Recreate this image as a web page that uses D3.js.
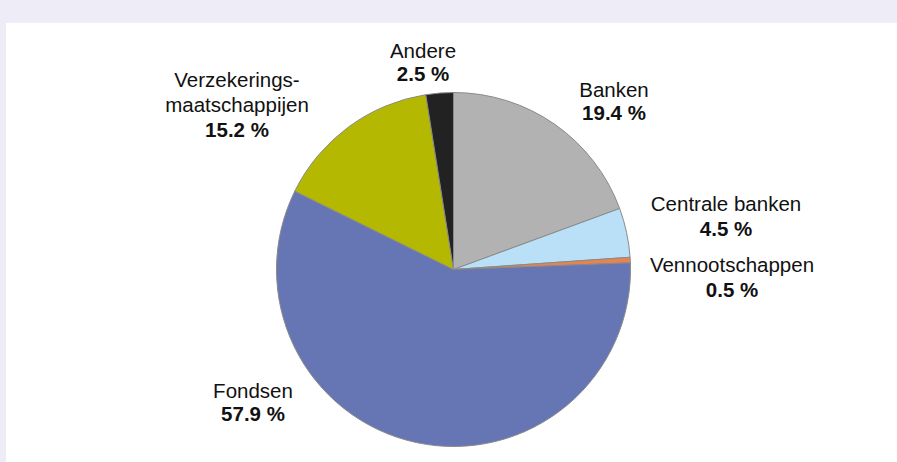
<!DOCTYPE html>
<html>
<head>
<meta charset="utf-8">
<script src="https://cdn.jsdelivr.net/npm/d3@7"></script>
<style>
  html, body { margin: 0; padding: 0; background: #ffffff; }
  svg { display: block; }
</style>
</head>
<body>
<svg id="chart" width="897" height="462"></svg>
<script>
// ---- data ----
const categories = ["Banken", "Centrale banken", "Vennootschappen", "Fondsen", "Verzekerings-\nmaatschappijen", "Andere"];
const shares = [19.4, 4.5, 0.5, 57.9, 15.2, 2.5];
const colors = ["#b2b2b2", "#b9e0f6", "#e9834e", "#6675b3", "#b4b800", "#222222"];

// ---- layout (label anchors: centre x, first baseline y, line step) ----
const labelLayout = [
  { x: 614, y: 97, step: 23 },
  { x: 726, y: 211, step: 25 },
  { x: 732, y: 272, step: 25 },
  { x: 253, y: 398, step: 23 },
  { x: 237, y: 87, step: 25 },
  { x: 423, y: 58, step: 23 }
];

const W = 897, H = 462;
const svg = d3.select("#chart");

// frame background
svg.append("rect").attr("x", 0).attr("y", 0).attr("width", W).attr("height", H).attr("fill", "#eeedf7");
svg.append("rect").attr("x", 6).attr("y", 23).attr("width", W - 6).attr("height", H - 23).attr("fill", "#ffffff");

const cx = 453.5, cy = 269.5, R = 177;

const pie = d3.pie().sort(null).value(d => d)(shares);
const arc = d3.arc().innerRadius(0).outerRadius(R);

const g = svg.append("g").attr("transform", `translate(${cx},${cy})`);
g.selectAll("path.slice")
  .data(pie)
  .join("path")
  .attr("class", "slice")
  .attr("d", arc)
  .attr("fill", (d, i) => colors[i])
  .attr("stroke", "#8a8a8a")
  .attr("stroke-width", 1)
  .attr("stroke-linejoin", "round");

const fmt = v => v.toFixed(1) + " %";

const labels = svg.append("g")
  .attr("font-family", "Liberation Sans, Arial, sans-serif")
  .attr("font-size", 20.5)
  .attr("fill", "#111111")
  .attr("text-anchor", "middle");

categories.forEach((c, i) => {
  const L = labelLayout[i];
  const lines = c.split("\n");
  const t = labels.append("text");
  lines.forEach((ln, k) => {
    t.append("tspan").attr("x", L.x).attr("y", L.y + k * L.step).text(ln);
  });
  t.append("tspan")
    .attr("x", L.x)
    .attr("y", L.y + lines.length * L.step)
    .attr("font-weight", "bold")
    .text(fmt(shares[i]));
});
</script>
</body>
</html>
